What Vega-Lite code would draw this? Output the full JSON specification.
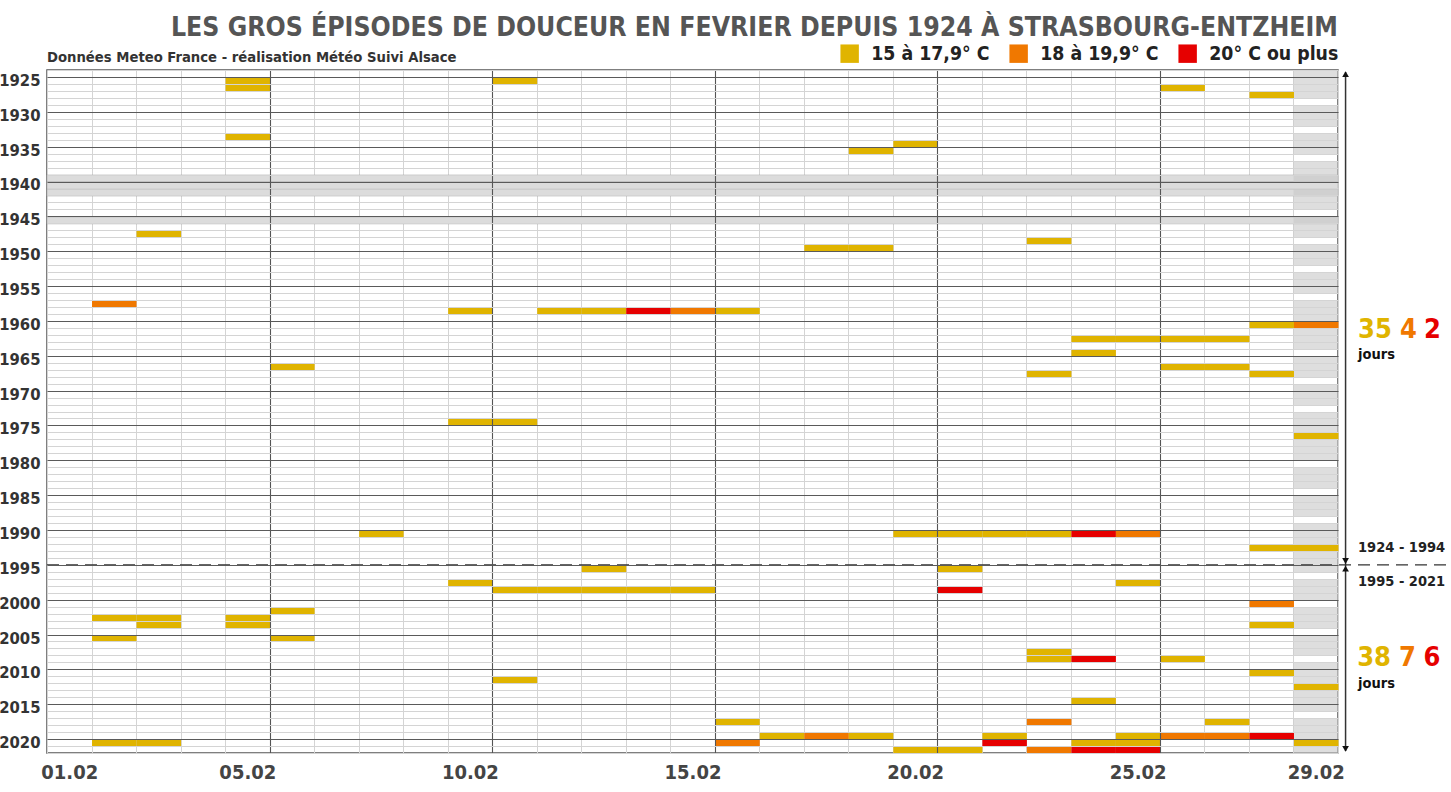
{
  "$schema": "https://vega.github.io/schema/vega-lite/v6.json",
  "width": 1291,
  "height": 683,
  "autosize": {"type": "none"},
  "padding": {"left": 47, "top": 70, "right": 113, "bottom": 39},
  "background": "white",
  "title": {
    "text": "LES GROS ÉPISODES DE DOUCEUR EN FEVRIER DEPUIS 1924 À STRASBOURG-ENTZHEIM",
    "anchor": "end",
    "frame": "group",
    "font": "'DejaVu Sans Condensed', sans-serif",
    "fontSize": 26.4,
    "fontWeight": "bold",
    "color": "#555555",
    "offset": 3
  },
  "datasets": {
    "jours": [
      {"annee": 1925, "jour": 5, "classe": "15 à 17,9° C"},
      {"annee": 1925, "jour": 11, "classe": "15 à 17,9° C"},
      {"annee": 1926, "jour": 5, "classe": "15 à 17,9° C"},
      {"annee": 1926, "jour": 26, "classe": "15 à 17,9° C"},
      {"annee": 1927, "jour": 28, "classe": "15 à 17,9° C"},
      {"annee": 1933, "jour": 5, "classe": "15 à 17,9° C"},
      {"annee": 1934, "jour": 20, "classe": "15 à 17,9° C"},
      {"annee": 1935, "jour": 19, "classe": "15 à 17,9° C"},
      {"annee": 1947, "jour": 3, "classe": "15 à 17,9° C"},
      {"annee": 1948, "jour": 23, "classe": "15 à 17,9° C"},
      {"annee": 1949, "jour": 18, "classe": "15 à 17,9° C"},
      {"annee": 1949, "jour": 19, "classe": "15 à 17,9° C"},
      {"annee": 1957, "jour": 2, "classe": "18 à 19,9° C"},
      {"annee": 1958, "jour": 10, "classe": "15 à 17,9° C"},
      {"annee": 1958, "jour": 12, "classe": "15 à 17,9° C"},
      {"annee": 1958, "jour": 13, "classe": "15 à 17,9° C"},
      {"annee": 1958, "jour": 14, "classe": "20° C ou plus"},
      {"annee": 1958, "jour": 15, "classe": "18 à 19,9° C"},
      {"annee": 1958, "jour": 16, "classe": "15 à 17,9° C"},
      {"annee": 1960, "jour": 28, "classe": "15 à 17,9° C"},
      {"annee": 1960, "jour": 29, "classe": "18 à 19,9° C"},
      {"annee": 1962, "jour": 24, "classe": "15 à 17,9° C"},
      {"annee": 1962, "jour": 25, "classe": "15 à 17,9° C"},
      {"annee": 1962, "jour": 26, "classe": "15 à 17,9° C"},
      {"annee": 1962, "jour": 27, "classe": "15 à 17,9° C"},
      {"annee": 1964, "jour": 24, "classe": "15 à 17,9° C"},
      {"annee": 1966, "jour": 6, "classe": "15 à 17,9° C"},
      {"annee": 1966, "jour": 26, "classe": "15 à 17,9° C"},
      {"annee": 1966, "jour": 27, "classe": "15 à 17,9° C"},
      {"annee": 1967, "jour": 23, "classe": "15 à 17,9° C"},
      {"annee": 1967, "jour": 28, "classe": "15 à 17,9° C"},
      {"annee": 1974, "jour": 10, "classe": "15 à 17,9° C"},
      {"annee": 1974, "jour": 11, "classe": "15 à 17,9° C"},
      {"annee": 1976, "jour": 29, "classe": "15 à 17,9° C"},
      {"annee": 1990, "jour": 8, "classe": "15 à 17,9° C"},
      {"annee": 1990, "jour": 20, "classe": "15 à 17,9° C"},
      {"annee": 1990, "jour": 21, "classe": "15 à 17,9° C"},
      {"annee": 1990, "jour": 22, "classe": "15 à 17,9° C"},
      {"annee": 1990, "jour": 23, "classe": "15 à 17,9° C"},
      {"annee": 1990, "jour": 24, "classe": "20° C ou plus"},
      {"annee": 1990, "jour": 25, "classe": "18 à 19,9° C"},
      {"annee": 1992, "jour": 28, "classe": "15 à 17,9° C"},
      {"annee": 1992, "jour": 29, "classe": "15 à 17,9° C"},
      {"annee": 1995, "jour": 13, "classe": "15 à 17,9° C"},
      {"annee": 1995, "jour": 21, "classe": "15 à 17,9° C"},
      {"annee": 1997, "jour": 10, "classe": "15 à 17,9° C"},
      {"annee": 1997, "jour": 25, "classe": "15 à 17,9° C"},
      {"annee": 1998, "jour": 11, "classe": "15 à 17,9° C"},
      {"annee": 1998, "jour": 12, "classe": "15 à 17,9° C"},
      {"annee": 1998, "jour": 13, "classe": "15 à 17,9° C"},
      {"annee": 1998, "jour": 14, "classe": "15 à 17,9° C"},
      {"annee": 1998, "jour": 15, "classe": "15 à 17,9° C"},
      {"annee": 1998, "jour": 21, "classe": "20° C ou plus"},
      {"annee": 2000, "jour": 28, "classe": "18 à 19,9° C"},
      {"annee": 2001, "jour": 6, "classe": "15 à 17,9° C"},
      {"annee": 2002, "jour": 2, "classe": "15 à 17,9° C"},
      {"annee": 2002, "jour": 3, "classe": "15 à 17,9° C"},
      {"annee": 2002, "jour": 5, "classe": "15 à 17,9° C"},
      {"annee": 2003, "jour": 3, "classe": "15 à 17,9° C"},
      {"annee": 2003, "jour": 5, "classe": "15 à 17,9° C"},
      {"annee": 2003, "jour": 28, "classe": "15 à 17,9° C"},
      {"annee": 2005, "jour": 2, "classe": "15 à 17,9° C"},
      {"annee": 2005, "jour": 6, "classe": "15 à 17,9° C"},
      {"annee": 2007, "jour": 23, "classe": "15 à 17,9° C"},
      {"annee": 2008, "jour": 23, "classe": "15 à 17,9° C"},
      {"annee": 2008, "jour": 24, "classe": "20° C ou plus"},
      {"annee": 2008, "jour": 26, "classe": "15 à 17,9° C"},
      {"annee": 2010, "jour": 28, "classe": "15 à 17,9° C"},
      {"annee": 2011, "jour": 11, "classe": "15 à 17,9° C"},
      {"annee": 2012, "jour": 29, "classe": "15 à 17,9° C"},
      {"annee": 2014, "jour": 24, "classe": "15 à 17,9° C"},
      {"annee": 2017, "jour": 16, "classe": "15 à 17,9° C"},
      {"annee": 2017, "jour": 23, "classe": "18 à 19,9° C"},
      {"annee": 2017, "jour": 27, "classe": "15 à 17,9° C"},
      {"annee": 2019, "jour": 17, "classe": "15 à 17,9° C"},
      {"annee": 2019, "jour": 18, "classe": "18 à 19,9° C"},
      {"annee": 2019, "jour": 19, "classe": "15 à 17,9° C"},
      {"annee": 2019, "jour": 22, "classe": "15 à 17,9° C"},
      {"annee": 2019, "jour": 25, "classe": "15 à 17,9° C"},
      {"annee": 2019, "jour": 26, "classe": "18 à 19,9° C"},
      {"annee": 2019, "jour": 27, "classe": "18 à 19,9° C"},
      {"annee": 2019, "jour": 28, "classe": "20° C ou plus"},
      {"annee": 2020, "jour": 2, "classe": "15 à 17,9° C"},
      {"annee": 2020, "jour": 3, "classe": "15 à 17,9° C"},
      {"annee": 2020, "jour": 16, "classe": "18 à 19,9° C"},
      {"annee": 2020, "jour": 22, "classe": "20° C ou plus"},
      {"annee": 2020, "jour": 24, "classe": "15 à 17,9° C"},
      {"annee": 2020, "jour": 25, "classe": "15 à 17,9° C"},
      {"annee": 2020, "jour": 29, "classe": "15 à 17,9° C"},
      {"annee": 2021, "jour": 20, "classe": "15 à 17,9° C"},
      {"annee": 2021, "jour": 21, "classe": "15 à 17,9° C"},
      {"annee": 2021, "jour": 23, "classe": "18 à 19,9° C"},
      {"annee": 2021, "jour": 24, "classe": "20° C ou plus"},
      {"annee": 2021, "jour": 25, "classe": "20° C ou plus"}
    ],
    "sans29": [
      {"annee": 1924}, {"annee": 1925}, {"annee": 1926}, {"annee": 1927}, {"annee": 1929}, {"annee": 1930}, {"annee": 1931},
      {"annee": 1933}, {"annee": 1934}, {"annee": 1935}, {"annee": 1937}, {"annee": 1938}, {"annee": 1939},
      {"annee": 1941}, {"annee": 1942}, {"annee": 1943}, {"annee": 1945}, {"annee": 1946}, {"annee": 1947},
      {"annee": 1949}, {"annee": 1950}, {"annee": 1951}, {"annee": 1953}, {"annee": 1954}, {"annee": 1955},
      {"annee": 1957}, {"annee": 1958}, {"annee": 1959}, {"annee": 1961}, {"annee": 1962}, {"annee": 1963},
      {"annee": 1965}, {"annee": 1966}, {"annee": 1967}, {"annee": 1969}, {"annee": 1970}, {"annee": 1971},
      {"annee": 1973}, {"annee": 1974}, {"annee": 1975}, {"annee": 1977}, {"annee": 1978}, {"annee": 1979},
      {"annee": 1981}, {"annee": 1982}, {"annee": 1983}, {"annee": 1985}, {"annee": 1986}, {"annee": 1987},
      {"annee": 1989}, {"annee": 1990}, {"annee": 1991}, {"annee": 1993}, {"annee": 1994}, {"annee": 1995},
      {"annee": 1997}, {"annee": 1998}, {"annee": 1999}, {"annee": 2001}, {"annee": 2002}, {"annee": 2003},
      {"annee": 2005}, {"annee": 2006}, {"annee": 2007}, {"annee": 2009}, {"annee": 2010}, {"annee": 2011},
      {"annee": 2013}, {"annee": 2014}, {"annee": 2015}, {"annee": 2017}, {"annee": 2018}, {"annee": 2019},
      {"annee": 2021}
    ],
    "lacunes": [
      {"annee": 1939}, {"annee": 1940}, {"annee": 1941}, {"annee": 1945}
    ]
  },
  "layer": [
    {
      "data": {"name": "lacunes"},
      "mark": {"type": "rect", "fill": "#dcdcdc", "stroke": "#a8a8a8", "strokeWidth": 0.6},
      "encoding": {
        "x": {"datum": 1, "type": "quantitative", "scale": {"domain": [1, 30], "nice": false, "zero": false},
          "axis": {"orient": "bottom", "values": [1,2,3,4,5,6,7,8,9,10,11,12,13,14,15,16,17,18,19,20,21,22,23,24,25,26,27,28,29,30],
            "grid": true, "gridColor": "#d4d4d4", "gridWidth": 1, "labels": false, "ticks": false, "domain": false, "title": null}},
        "x2": {"datum": 30},
        "y": {"field": "annee", "type": "quantitative", "bin": {"step": 1, "extent": [1924, 2022]},
          "scale": {"domain": [1924, 2022], "reverse": true, "nice": false, "zero": false},
          "axis": {"orient": "left", "values": [1924,1925,1926,1927,1928,1929,1930,1931,1932,1933,1934,1935,1936,1937,1938,1939,1940,1941,1942,1943,1944,1945,1946,1947,1948,1949,1950,1951,1952,1953,1954,1955,1956,1957,1958,1959,1960,1961,1962,1963,1964,1965,1966,1967,1968,1969,1970,1971,1972,1973,1974,1975,1976,1977,1978,1979,1980,1981,1982,1983,1984,1985,1986,1987,1988,1989,1990,1991,1992,1993,1994,1995,1996,1997,1998,1999,2000,2001,2002,2003,2004,2005,2006,2007,2008,2009,2010,2011,2012,2013,2014,2015,2016,2017,2018,2019,2020,2021,2022],
            "grid": true, "gridColor": "#d4d4d4", "gridWidth": 1, "labels": false, "ticks": false, "domain": false, "title": null}}
      }
    },
    {
      "data": {"name": "sans29"},
      "mark": {"type": "rect", "fill": "#c8c8c8", "opacity": 0.6},
      "encoding": {
        "x": {"datum": 29, "type": "quantitative", "scale": {"domain": [1, 30], "nice": false, "zero": false},
          "axis": {"orient": "bottom", "values": [6, 11, 16, 21, 26], "grid": true, "gridColor": "#555555", "gridWidth": 1.1, "zindex": 1,
            "labels": false, "ticks": false, "domain": false, "title": null}},
        "x2": {"datum": 30},
        "y": {"field": "annee", "type": "quantitative", "bin": {"step": 1, "extent": [1924, 2022]},
          "scale": {"domain": [1924, 2022], "reverse": true, "nice": false, "zero": false},
          "axis": {"orient": "left", "values": [1925,1930,1935,1940,1945,1950,1955,1960,1965,1970,1975,1980,1985,1990,1995,2000,2005,2010,2015,2020],
            "grid": true, "gridColor": "#5a5a5a", "gridWidth": 1, "labels": false, "ticks": false, "domain": false, "title": null}}
      }
    },
    {
      "data": {"name": "jours"},
      "mark": {"type": "rect"},
      "encoding": {
        "x": {"field": "jour", "type": "quantitative", "bin": {"step": 1, "extent": [1, 30]},
          "scale": {"domain": [1, 30], "nice": false, "zero": false},
          "axis": {"orient": "bottom", "values": [1.5, 5.5, 10.5, 15.5, 20.5, 25.5, 29.5], "grid": false, "ticks": false, "domain": false,
            "title": null, "labelExpr": "(floor(datum.value) < 10 ? '0' : '') + floor(datum.value) + '.02'",
            "labelFont": "'DejaVu Sans Condensed', sans-serif", "labelFontSize": 20, "labelFontWeight": "bold",
            "labelColor": "#444444", "labelPadding": 9}},
        "y": {"field": "annee", "type": "quantitative", "bin": {"step": 1, "extent": [1924, 2022]},
          "scale": {"domain": [1924, 2022], "reverse": true, "nice": false, "zero": false},
          "axis": {"orient": "left", "values": [1925.5,1930.5,1935.5,1940.5,1945.5,1950.5,1955.5,1960.5,1965.5,1970.5,1975.5,1980.5,1985.5,1990.5,1995.5,2000.5,2005.5,2010.5,2015.5,2020.5],
            "grid": false, "ticks": false, "domain": false, "title": null, "labelExpr": "'' + floor(datum.value)",
            "labelFont": "'DejaVu Sans Condensed', sans-serif", "labelFontSize": 16.5, "labelFontWeight": "bold",
            "labelColor": "#333333", "labelPadding": 7}},
        "color": {"field": "classe", "type": "nominal",
          "scale": {"domain": ["15 à 17,9° C", "18 à 19,9° C", "20° C ou plus"], "range": ["#e0b400", "#f07800", "#e60000"]},
          "legend": {"orient": "none", "legendX": 793, "legendY": -26, "direction": "horizontal", "title": null,
            "symbolType": "square", "symbolSize": 340, "symbolStrokeWidth": 0, "symbolOpacity": 1,
            "labelFont": "'DejaVu Sans Condensed', sans-serif", "labelFontSize": 19.3, "labelFontWeight": "bold",
            "labelColor": "#222222", "labelOffset": 12, "columnPadding": 19}}
      }
    },
    {
      "data": {"values": [{}]},
      "mark": {"type": "rule", "color": "#333333", "strokeWidth": 1.3, "strokeDash": [12, 7]},
      "encoding": {"x": {"datum": 1, "type": "quantitative", "axis": null}, "x2": {"datum": 32.6}, "y": {"datum": 1995, "type": "quantitative", "axis": null}}
    },
    {
      "data": {"values": [{}]},
      "mark": {"type": "rule", "color": "#333333", "strokeWidth": 1.5},
      "encoding": {"x": {"datum": 30.17, "type": "quantitative", "axis": null}, "y": {"datum": 1924.3, "type": "quantitative", "axis": null}, "y2": {"datum": 2021.7}}
    },
    {
      "data": {"values": [{}]},
      "mark": {"type": "point", "shape": "triangle-up", "filled": true, "color": "#111111", "size": 45, "opacity": 1},
      "encoding": {"x": {"datum": 30.17, "type": "quantitative", "axis": null}, "y": {"datum": 1924.6, "type": "quantitative", "axis": null}}
    },
    {
      "data": {"values": [{}]},
      "mark": {"type": "point", "shape": "triangle-down", "filled": true, "color": "#111111", "size": 45, "opacity": 1},
      "encoding": {"x": {"datum": 30.17, "type": "quantitative", "axis": null}, "y": {"datum": 1994.45, "type": "quantitative", "axis": null}}
    },
    {
      "data": {"values": [{}]},
      "mark": {"type": "point", "shape": "triangle-up", "filled": true, "color": "#111111", "size": 45, "opacity": 1},
      "encoding": {"x": {"datum": 30.17, "type": "quantitative", "axis": null}, "y": {"datum": 1995.55, "type": "quantitative", "axis": null}}
    },
    {
      "data": {"values": [{}]},
      "mark": {"type": "point", "shape": "triangle-down", "filled": true, "color": "#111111", "size": 45, "opacity": 1},
      "encoding": {"x": {"datum": 30.17, "type": "quantitative", "axis": null}, "y": {"datum": 2021.4, "type": "quantitative", "axis": null}}
    },
    {
      "data": {"values": [{}]},
      "mark": {"type": "text", "align": "left", "baseline": "bottom", "dy": -5, "fontSize": 14.7, "fontWeight": "bold", "color": "#333333",
        "font": "'DejaVu Sans Condensed', sans-serif"},
      "encoding": {"x": {"datum": 1, "type": "quantitative", "axis": null}, "y": {"datum": 1924, "type": "quantitative", "axis": null},
        "text": {"value": "Données Meteo France - réalisation Météo Suivi Alsace"}}
    },
    {
      "data": {"values": [{}]},
      "mark": {"type": "text", "align": "left", "baseline": "middle", "fontSize": 14.5, "fontWeight": "bold", "color": "#222222",
        "font": "'DejaVu Sans Condensed', sans-serif"},
      "encoding": {"x": {"datum": 30.45, "type": "quantitative", "axis": null}, "y": {"datum": 1992.6, "type": "quantitative", "axis": null},
        "text": {"value": "1924 - 1994"}}
    },
    {
      "data": {"values": [{}]},
      "mark": {"type": "text", "align": "left", "baseline": "middle", "fontSize": 14.5, "fontWeight": "bold", "color": "#222222",
        "font": "'DejaVu Sans Condensed', sans-serif"},
      "encoding": {"x": {"datum": 30.45, "type": "quantitative", "axis": null}, "y": {"datum": 1997.5, "type": "quantitative", "axis": null},
        "text": {"value": "1995 - 2021"}}
    },
    {
      "data": {"values": [{}]},
      "mark": {"type": "text", "align": "left", "baseline": "middle", "fontSize": 27, "fontWeight": "bold", "color": "#e0b400",
        "font": "'DejaVu Sans Condensed', sans-serif"},
      "encoding": {"x": {"datum": 30.45, "type": "quantitative", "axis": null}, "y": {"datum": 1961.3, "type": "quantitative", "axis": null},
        "text": {"value": "35"}}
    },
    {
      "data": {"values": [{}]},
      "mark": {"type": "text", "align": "left", "baseline": "middle", "fontSize": 27, "fontWeight": "bold", "color": "#f07800",
        "font": "'DejaVu Sans Condensed', sans-serif"},
      "encoding": {"x": {"datum": 31.39, "type": "quantitative", "axis": null}, "y": {"datum": 1961.3, "type": "quantitative", "axis": null},
        "text": {"value": "4"}}
    },
    {
      "data": {"values": [{}]},
      "mark": {"type": "text", "align": "left", "baseline": "middle", "fontSize": 27, "fontWeight": "bold", "color": "#e60000",
        "font": "'DejaVu Sans Condensed', sans-serif"},
      "encoding": {"x": {"datum": 31.93, "type": "quantitative", "axis": null}, "y": {"datum": 1961.3, "type": "quantitative", "axis": null},
        "text": {"value": "2"}}
    },
    {
      "data": {"values": [{}]},
      "mark": {"type": "text", "align": "left", "baseline": "middle", "fontSize": 14.5, "fontWeight": "bold", "color": "#111111",
        "font": "'DejaVu Sans Condensed', sans-serif"},
      "encoding": {"x": {"datum": 30.45, "type": "quantitative", "axis": null}, "y": {"datum": 1964.9, "type": "quantitative", "axis": null},
        "text": {"value": "jours"}}
    },
    {
      "data": {"values": [{}]},
      "mark": {"type": "text", "align": "left", "baseline": "middle", "fontSize": 27, "fontWeight": "bold", "color": "#e0b400",
        "font": "'DejaVu Sans Condensed', sans-serif"},
      "encoding": {"x": {"datum": 30.43, "type": "quantitative", "axis": null}, "y": {"datum": 2008.35, "type": "quantitative", "axis": null},
        "text": {"value": "38"}}
    },
    {
      "data": {"values": [{}]},
      "mark": {"type": "text", "align": "left", "baseline": "middle", "fontSize": 27, "fontWeight": "bold", "color": "#f07800",
        "font": "'DejaVu Sans Condensed', sans-serif"},
      "encoding": {"x": {"datum": 31.37, "type": "quantitative", "axis": null}, "y": {"datum": 2008.35, "type": "quantitative", "axis": null},
        "text": {"value": "7"}}
    },
    {
      "data": {"values": [{}]},
      "mark": {"type": "text", "align": "left", "baseline": "middle", "fontSize": 27, "fontWeight": "bold", "color": "#e60000",
        "font": "'DejaVu Sans Condensed', sans-serif"},
      "encoding": {"x": {"datum": 31.92, "type": "quantitative", "axis": null}, "y": {"datum": 2008.35, "type": "quantitative", "axis": null},
        "text": {"value": "6"}}
    },
    {
      "data": {"values": [{}]},
      "mark": {"type": "text", "align": "left", "baseline": "middle", "fontSize": 14.5, "fontWeight": "bold", "color": "#111111",
        "font": "'DejaVu Sans Condensed', sans-serif"},
      "encoding": {"x": {"datum": 30.45, "type": "quantitative", "axis": null}, "y": {"datum": 2012.1, "type": "quantitative", "axis": null},
        "text": {"value": "jours"}}
    }
  ],
  "resolve": {"axis": {"x": "independent", "y": "independent"}},
  "config": {
    "view": {"stroke": "#555555", "strokeWidth": 1.5},
    "axis": {"domain": false, "ticks": false}
  }
}
